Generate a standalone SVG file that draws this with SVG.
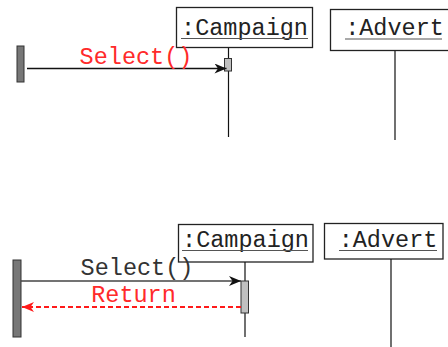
<svg xmlns="http://www.w3.org/2000/svg" width="448" height="347" viewBox="0 0 448 347">
  <style>
    .obj { fill: #ffffff; stroke: #222222; stroke-width: 1.3; }
    .name { font-family: "Liberation Mono", "DejaVu Sans Mono", monospace; font-size: 23.5px; fill: #222222; text-anchor: middle; }
    .uline { stroke: #555555; stroke-width: 1.2; }
    .life { stroke: #111111; stroke-width: 1.2; fill: none; }
    .bar { fill: #777777; stroke: #333333; stroke-width: 1; }
    .act { fill: #c0c0c0; stroke: #333333; stroke-width: 1; }
    .msg { font-family: "Liberation Mono", "DejaVu Sans Mono", monospace; font-size: 23.5px; text-anchor: middle; }
    .red { fill: #ff2a2a; }
    .dark { fill: #333333; }
  </style>
  <defs>
    <marker id="head" viewBox="0 0 12 10" markerWidth="13" markerHeight="10" refX="12" refY="5" orient="auto" markerUnits="userSpaceOnUse">
      <path d="M0,0 L12,5 L0,10 L3.5,5 z" fill="#111111"/>
    </marker>
    <marker id="headRed" viewBox="0 0 12 10" markerWidth="12" markerHeight="10" refX="12" refY="5" orient="auto" markerUnits="userSpaceOnUse">
      <path d="M0,0 L12,5 L0,10 L3.5,5 z" fill="#ff1a1a"/>
    </marker>
  </defs>

  <!-- upper sequence: lifelines -->
  <g id="campaign-top">
    <rect class="obj" x="176.5" y="7.5" width="136" height="40"/>
    <text class="name" x="244.5" y="35">:Campaign</text>
    <line class="uline" x1="181" y1="38.5" x2="308" y2="38.5"/>
    <line class="life" x1="228.5" y1="48" x2="228.5" y2="137"/>
    <rect class="act" x="224.5" y="58.5" width="7" height="12.5"/>
  </g>
  <g id="advert-top">
    <rect class="obj" x="330.5" y="9.5" width="130" height="41"/>
    <text class="name" x="394.5" y="35">:Advert</text>
    <line class="uline" x1="345" y1="39" x2="442" y2="39"/>
    <line class="life" x1="395" y1="51" x2="395" y2="140"/>
  </g>
  <g id="caller-top">
    <rect class="bar" x="17" y="46" width="7" height="36"/>
  </g>

  <!-- lower sequence: lifelines -->
  <g id="campaign-bottom">
    <rect class="obj" x="178.5" y="224.5" width="134.5" height="37.5"/>
    <text class="name" x="245.5" y="247">:Campaign</text>
    <line class="uline" x1="182" y1="250.5" x2="308" y2="250.5"/>
    <line class="life" x1="245" y1="262" x2="245" y2="337"/>
    <rect class="act" x="241" y="281" width="7.5" height="32"/>
  </g>
  <g id="advert-bottom">
    <rect class="obj" x="324.5" y="223.5" width="118.5" height="35.5"/>
    <text class="name" x="388" y="247">:Advert</text>
    <line class="uline" x1="339" y1="250.5" x2="437" y2="250.5"/>
    <line class="life" x1="391" y1="259" x2="391" y2="347"/>
  </g>
  <g id="caller-bottom">
    <rect class="bar" x="13" y="260" width="8" height="77"/>
  </g>

  <!-- messages -->
  <g id="connectors">
    <line x1="27" y1="68.5" x2="226.5" y2="68.5" stroke="#111111" stroke-width="1.4" marker-end="url(#head)"/>
    <text class="msg red" x="136" y="64">Select()</text>

    <line x1="21" y1="281" x2="241" y2="281" stroke="#444444" stroke-width="1.6" marker-end="url(#head)"/>
    <text class="msg dark" x="137" y="275">Select()</text>

    <line x1="241" y1="307" x2="22" y2="307" stroke="#ff1a1a" stroke-width="2" stroke-dasharray="5,3" marker-end="url(#headRed)"/>
    <text class="msg red" x="133.5" y="302">Return</text>
  </g>
</svg>
